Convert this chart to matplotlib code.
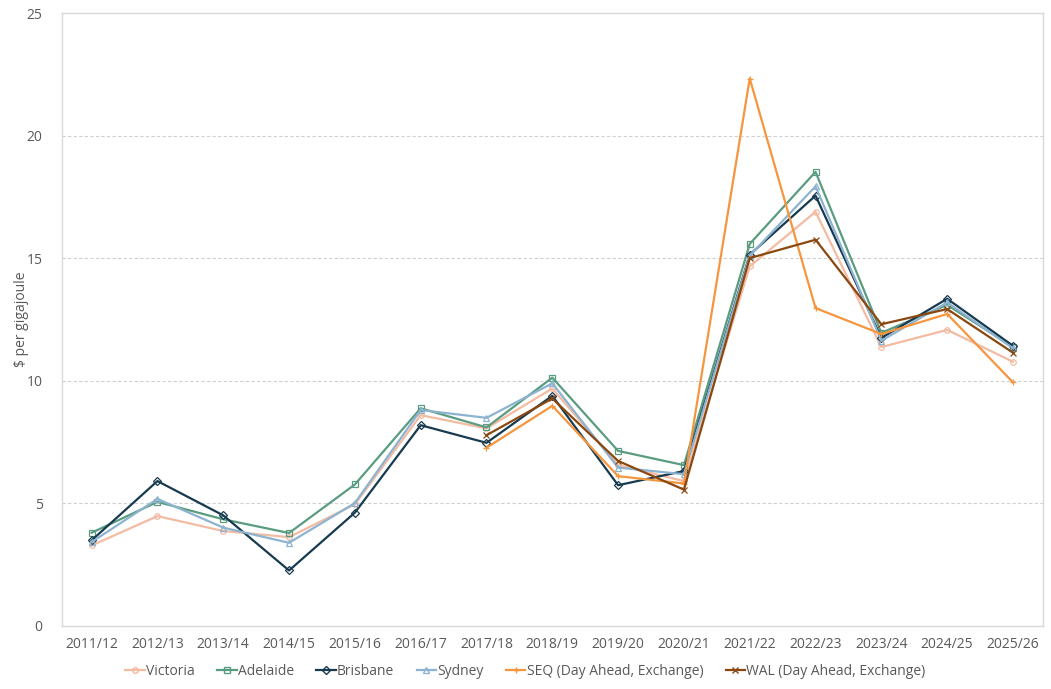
import matplotlib
matplotlib.use("Agg")
import matplotlib.pyplot as plt
from matplotlib.lines import Line2D

plt.rcParams['font.family'] = ['Open Sans', 'DejaVu Sans']

years = ["2011/12", "2012/13", "2013/14", "2014/15", "2015/16", "2016/17", "2017/18",
         "2018/19", "2019/20", "2020/21", "2021/22", "2022/23", "2023/24", "2024/25", "2025/26"]

victoria = [3.27, 4.47, 3.86, 3.61, 4.95, 8.59, 8.05, 9.68, 6.55, 5.9, 14.66, 16.89, 11.37, 12.07, 10.77]
adelaide = [3.79, 5.05, 4.34, 3.78, 5.76, 8.87, 8.09, 10.12, 7.13, 6.55, 15.58, 18.52, 11.95, 13.09, 11.37]
brisbane = [3.48, 5.9, 4.5, 2.25, 4.61, 8.18, 7.46, 9.38, 5.73, 6.31, 15.14, 17.55, 11.74, 13.34, 11.42]
sydney = [3.41, 5.17, 4.0, 3.38, 5.0, 8.8, 8.48, 9.89, 6.45, 6.18, 15.1, 17.93, 11.63, 13.19, 11.32]
seq = [None, None, None, None, None, None, 7.26, 8.97, 6.1, 5.8, 22.33, 12.96, 11.9, 12.72, 9.93]
wal = [None, None, None, None, None, None, 7.77, 9.27, 6.72, 5.55, 15.0, 15.75, 12.3, 12.92, 11.14]

series = [
    ("Victoria", victoria, "#F4BBA3", "o"),
    ("Adelaide", adelaide, "#5A9C80", "s"),
    ("Brisbane", brisbane, "#173A50", "D"),
    ("Sydney", sydney, "#8CB3D0", "^"),
    ("SEQ (Day Ahead, Exchange)", seq, "#F5963F", "+"),
    ("WAL (Day Ahead, Exchange)", wal, "#8A4810", "x"),
]

fig = plt.figure(figsize=(10.51, 6.89), dpi=100)
ax = fig.add_axes([0.059, 0.092, 0.933, 0.889])

x = list(range(len(years)))
for name, vals, col, mk in series:
    xs = [xi for xi, v in zip(x, vals) if v is not None]
    ys = [v for v in vals if v is not None]
    mfc = 'none' if mk in ('o', 's', '^', 'D') else col
    ax.plot(xs, ys, color=col, lw=1.6, marker=mk, markersize=4, markerfacecolor=mfc,
            markeredgecolor=col, markeredgewidth=0.9, label=name)

ax.set_xlim(-0.45, len(years) - 0.55)
ax.set_ylim(0, 25)
ax.set_yticks([0, 5, 10, 15, 20, 25])
ax.set_xticks(x)
ax.set_xticklabels(years)
ax.yaxis.grid(True, color='#D0D0D0', linestyle=(0, (3, 2)), lw=0.8)
ax.set_axisbelow(True)
for s in ax.spines.values():
    s.set_color('#D9D9D9')
    s.set_linewidth(1)
ax.tick_params(length=0, colors='#595959', labelsize=10, pad=8)
ax.tick_params(axis='y', pad=14)
ax.set_ylabel("$ per gigajoule", color='#595959', fontsize=10, labelpad=-2)

handles = [Line2D([], [], color=col, lw=1.6, marker=mk, markersize=4,
                  markerfacecolor=('none' if mk in ('o', 's', '^', 'D') else col),
                  markeredgecolor=col) for _, _, col, mk in series]
leg = fig.legend(handles, [s[0] for s in series], loc='center', bbox_to_anchor=(0.5, 0.025),
                 ncol=6, frameon=False, fontsize=10, handlelength=1.4, handletextpad=0.1,
                 columnspacing=1.6)
for t in leg.get_texts():
    t.set_color('#595959')

fig.savefig("out.png", dpi=100)
